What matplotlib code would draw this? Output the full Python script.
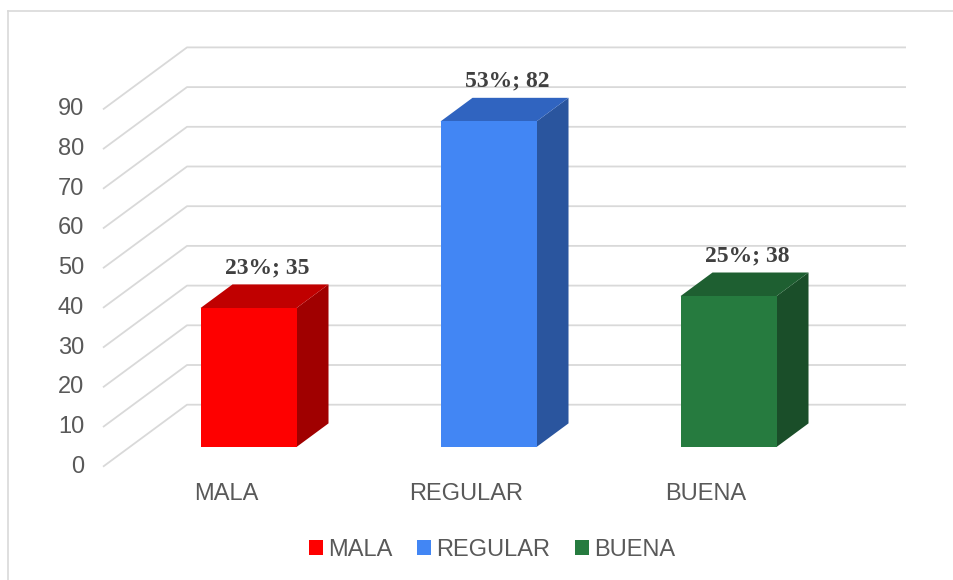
import matplotlib
matplotlib.use("Agg")
import matplotlib.pyplot as plt
from matplotlib.patches import Polygon, Patch
from matplotlib.lines import Line2D

# ---- data ----
categories = ["MALA", "REGULAR", "BUENA"]
values = [35, 82, 38]
percents = ["23%", "53%", "25%"]
y_ticks = [0, 10, 20, 30, 40, 50, 60, 70, 80, 90]

front_colors = ["#FE0000", "#4286F4", "#267B3F"]
top_colors = ["#C00000", "#3064C0", "#1E5F31"]
side_colors = ["#A00000", "#2A559E", "#1A4E29"]

W, H = 954, 580
fig = plt.figure(figsize=(W / 100, H / 100), dpi=100)
ax = fig.add_axes([0, 0, 1, 1])

# scales (pixels per unit)
PX_X = 240.0      # per category
PX_Y = 3.97       # per value unit
X0_PX = 221.8     # category 0 centre on the front plane
Y0_PX = 580 - 466.7  # value 0 on the front plane (from bottom)
ax.set_xlim(-X0_PX / PX_X, (W - X0_PX) / PX_X)
ax.set_ylim(-Y0_PX / PX_Y, (H - Y0_PX) / PX_Y)
ax.axis("off")

DX = 84 / PX_X    # full depth offset (category units)
DY = 62 / PX_Y    # full depth offset (value units)
D0, D1 = 0.318, 0.318 + 32 / 84
HALF = 0.2
XL = (103 - X0_PX) / PX_X
XR = (906 - X0_PX) / PX_X - DX


def proj(x, v, d):
    return (x + d * DX, v + d * DY)


grid_c = "#D9D9D9"
for v in y_ticks:
    p1 = proj(XL, v, 0)
    p2 = proj(XL, v, 1)
    p3 = proj(XR, v, 1)
    ax.add_line(Line2D([p1[0], p2[0], p3[0]], [p1[1], p2[1], p3[1]],
                       color=grid_c, lw=1.3, zorder=1, solid_capstyle="butt"))
    ax.annotate(str(v), xy=p1, xytext=(-13.5, 0), textcoords="offset points",
                ha="right", va="center", fontsize=17, color="#595959",
                family="Liberation Sans")

for i, (cat, val) in enumerate(zip(categories, values)):
    xl, xr = i - HALF, i + HALF
    front = [proj(xl, 0, D0), proj(xr, 0, D0), proj(xr, val, D0), proj(xl, val, D0)]
    top = [proj(xl, val, D0), proj(xr, val, D0), proj(xr, val, D1), proj(xl, val, D1)]
    side = [proj(xr, 0, D0), proj(xr, val, D0), proj(xr, val, D1), proj(xr, 0, D1)]
    ax.add_patch(Polygon(side, closed=True, fc=side_colors[i], ec="none", zorder=3))
    ax.add_patch(Polygon(top, closed=True, fc=top_colors[i], ec="none", zorder=3))
    ax.add_patch(Polygon(front, closed=True, fc=front_colors[i], ec="none", zorder=4))
    lx = proj(i, val, (D0 + D1) / 2)[0] + 0.01
    ly = proj(i, val, D1)[1]
    ax.annotate(f"{percents[i]}; {val}", xy=(lx, ly), xytext=(0, 8.0),
                textcoords="offset points", ha="center", va="baseline",
                fontsize=17, fontweight="bold", color="#404040",
                family="Liberation Serif", zorder=5)
    ax.annotate(cat, xy=proj(i, 0, 0), xytext=(3, -20), textcoords="offset points",
                ha="center", va="center", fontsize=17, color="#595959",
                family="Liberation Sans")

# chart border (partially visible at top/left)
fig.add_artist(Line2D([8 / W, 8 / W], [0, 1 - 11 / H], transform=fig.transFigure,
                      color="#D9D9D9", lw=1.2))
fig.add_artist(Line2D([8 / W, 1], [1 - 11 / H, 1 - 11 / H], transform=fig.transFigure,
                      color="#D9D9D9", lw=1.2))

handles = [Patch(fc=c, ec="none") for c in front_colors]
leg = fig.legend(handles, categories, loc="center",
                 bbox_to_anchor=(492 / W, 1 - 550 / H), ncol=3, frameon=False,
                 prop={"family": "Liberation Sans", "size": 17},
                 handlelength=0.6, handleheight=0.6, handletextpad=0.2,
                 columnspacing=1.05, labelcolor="#595959")

fig.savefig("out.png", dpi=100)
